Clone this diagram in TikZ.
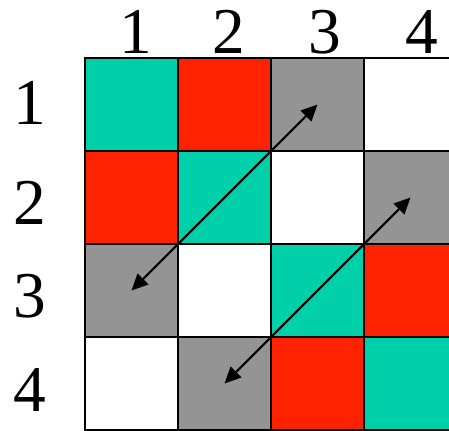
\documentclass[tikz,border=0pt]{standalone}
\usepackage{fontspec}
\setmainfont{Liberation Serif}
\usetikzlibrary{arrows.meta}

\definecolor{cellteal}{RGB}{0,208,170}
\definecolor{cellred}{RGB}{255,34,0}
\definecolor{cellgray}{RGB}{148,148,148}

\begin{document}
\begin{tikzpicture}[
  >={Triangle[length=5pt,width=4.6pt]},
  cell/.style={draw, line width=0.55pt, minimum size=1cm, inner sep=0pt, outer sep=0pt},
  idx/.style={anchor=base, font=\fontsize{20}{20}\selectfont, inner sep=0pt},
  pointer/.style={<->, line width=0.65pt}
]
\useasboundingbox (-0.914,-4) rectangle (3.914,0.624);

% --- Grid cells: row, colours left to right ---
\foreach \r/\row in {1/{cellteal,cellred,cellgray,white},
                     2/{cellred,cellteal,white,cellgray},
                     3/{cellgray,white,cellteal,cellred},
                     4/{white,cellgray,cellred,cellteal}}{
  \foreach \col [count=\c] in \row{
    \node[cell, fill=\col] (c\r\c) at (\c-0.5,-\r+0.5) {};
  }
}

% --- Column numbers ---
\foreach \c/\x in {1/0.55,2/1.55,3/2.58,4/3.62}
  \node[idx] (top\c) at (\x,0.05) {\c};

% --- Row numbers ---
\foreach \r/\y in {1/-0.72,2/-1.79,3/-2.79,4/-3.80}
  \node[idx] (side\r) at (-0.59,\y) {\r};

% --- Diagonal arrows between cell centres ---
\draw[pointer] (c31.center) -- (c13.center);
\draw[pointer] (c42.center) -- (c24.center);

\end{tikzpicture}
\end{document}
